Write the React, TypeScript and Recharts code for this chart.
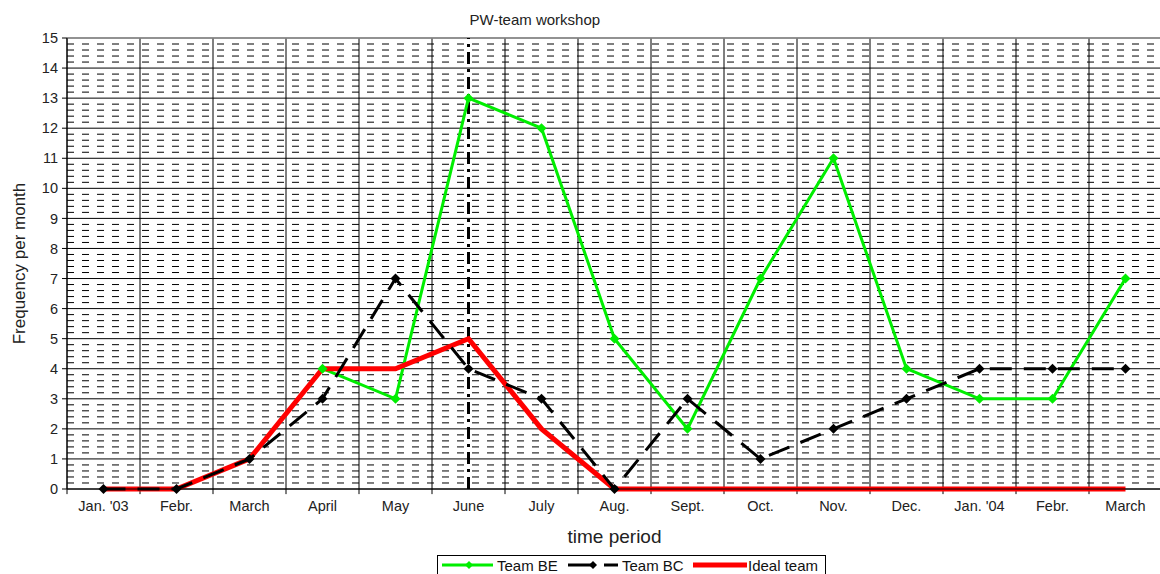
import React from "react";
import {
  LineChart,
  Line,
  XAxis,
  YAxis,
  CartesianGrid,
  ReferenceLine,
  Legend,
  Label,
} from "recharts";

const months = [
  "Jan. '03", "Febr.", "March", "April", "May", "June", "July", "Aug.",
  "Sept.", "Oct.", "Nov.", "Dec.", "Jan. '04", "Febr.", "March",
];
const teamBE = [null, null, null, 4, 3, 13, 12, 5, 2, 7, 11, 4, 3, 3, 7];
const teamBC = [0, 0, 1, 3, 7, 4, 3, 0, 3, 1, 2, 3, 4, 4, 4];
const idealTeam = [0, 0, 1, 4, 4, 5, 2, 0, 0, 0, 0, 0, 0, 0, 0];
const yTicks = [0, 1, 2, 3, 4, 5, 6, 7, 8, 9, 10, 11, 12, 13, 14, 15];
const workshopMonth = "June";

// each month sits in the middle of its band (i .. i+1)
const data = months.map((m, i) => ({
  x: i + 0.5,
  month: m,
  be: teamBE[i],
  bc: teamBC[i],
  ideal: idealTeam[i],
}));
const xTicks = data.map((d) => d.x);

const bandEdges = months.map((_, i) => i).concat(months.length);
const minorLines: number[] = [];
for (let k = 1; k < 75; k++) if (k % 5 !== 0) minorLines.push(k / 5);

const FONT = "'Liberation Sans', Arial, sans-serif";

function Diamond(color: string, r: number) {
  return (props: any) => {
    const { cx, cy, index } = props;
    if (cx == null || cy == null || props.value == null) return <g key={index} />;
    return (
      <polygon
        key={index}
        points={`${cx},${cy - r} ${cx + r},${cy} ${cx},${cy + r} ${cx - r},${cy}`}
        fill={color}
      />
    );
  };
}

function LegendBox() {
  const txt = { position: "absolute" as const, top: 1, lineHeight: "17px" };
  return (
    <div style={{ height: 20, fontFamily: FONT, fontSize: 15, color: "#111" }}>
      <div
        style={{
          position: "relative",
          marginLeft: 437,
          width: 389,
          height: 20,
          boxSizing: "border-box",
          border: "1px solid #000",
          whiteSpace: "nowrap",
        }}
      >
        <svg width={389} height={18} style={{ position: "absolute", left: -1, top: 0 }}>
          <line x1={5} y1={9} x2={56} y2={9} stroke="#00ee00" strokeWidth={3} />
          <polygon points="32,5 36,9 32,13 28,9" fill="#00ee00" />
          <line x1={131} y1={9} x2={158} y2={9} stroke="#000" strokeWidth={3} />
          <line x1={167} y1={9} x2={181} y2={9} stroke="#000" strokeWidth={3} />
          <polygon points="156,5 160,9 156,13 152,9" fill="#000" />
          <line x1={256} y1={9} x2={310} y2={9} stroke="#ff0000" strokeWidth={5} />
        </svg>
        <span style={{ ...txt, left: 59 }}>Team BE</span>
        <span style={{ ...txt, left: 184 }}>Team BC</span>
        <span style={{ ...txt, left: 310 }}>Ideal team</span>
      </div>
    </div>
  );
}

export default function App() {
  return (
    <div style={{ position: "absolute", left: 0, top: 0, background: "#fff" }}>
      <LineChart
        width={1160}
        height={574}
        data={data}
        margin={{ top: 38, right: -2, bottom: 0, left: 0 }}
        style={{ fontFamily: FONT }}
      >
        <CartesianGrid vertical={false} stroke="#000" />
        {minorLines.map((v) => (
          <ReferenceLine key={"m" + v} y={v} stroke="#000" strokeDasharray="7 8" />
        ))}
        {bandEdges.map((e) => (
          <ReferenceLine
            key={"v" + e}
            segment={[
              { x: e, y: -0.17 },
              { x: e, y: 15 },
            ]}
            ifOverflow="visible"
            stroke="#000"
          />
        ))}
        <ReferenceLine y={15} stroke="#999" strokeWidth={1.5} />
        <XAxis
          dataKey="x"
          type="number"
          domain={[0, months.length]}
          ticks={xTicks}
          interval={0}
          tickFormatter={(v) => months[Math.floor(v)]}
          height={65}
          tickLine={false}
          tickMargin={6}
          axisLine={{ stroke: "#000" }}
          tick={{ fill: "#222", fontSize: 14.5 }}
        >
          <Label
            value="time period"
            position="insideBottom"
            offset={11}
            style={{ fontSize: 19, fill: "#222" }}
          />
        </XAxis>
        <YAxis
          type="number"
          domain={[0, 15]}
          ticks={yTicks}
          interval={0}
          width={67}
          tickSize={5}
          tickMargin={4}
          axisLine={{ stroke: "#000" }}
          tickLine={{ stroke: "#000" }}
          tick={{ fill: "#222", fontSize: 14.5 }}
        >
          <Label
            value="Frequency per month"
            angle={-90}
            position="insideLeft"
            offset={19}
            style={{ fontSize: 17, fill: "#222", textAnchor: "middle" }}
          />
        </YAxis>
        <ReferenceLine
          x={data[months.indexOf(workshopMonth)].x}
          stroke="#000"
          strokeWidth={3}
          strokeDasharray="12 5 3 5"
          label={(props: any) => {
            const vb = props.viewBox || {};
            return (
              <text
                x={vb.x + 1}
                y={vb.y - 13}
                textAnchor="start"
                fontSize={15}
                fill="#222"
                fontFamily={FONT}
              >
                PW-team workshop
              </text>
            );
          }}
        />
        <Line
          dataKey="be"
          name="Team BE"
          stroke="#00ee00"
          strokeWidth={3}
          dot={Diamond("#00ee00", 5)}
          activeDot={false}
          isAnimationActive={false}
        />
        <Line
          dataKey="ideal"
          name="Ideal team"
          stroke="#ff0000"
          strokeWidth={5}
          dot={false}
          activeDot={false}
          isAnimationActive={false}
        />
        <Line
          dataKey="bc"
          name="Team BC"
          stroke="#000"
          strokeWidth={3}
          strokeDasharray="22 12"
          dot={Diamond("#000", 5)}
          activeDot={false}
          isAnimationActive={false}
        />
        <Legend
          verticalAlign="bottom"
          content={() => <LegendBox />}
          wrapperStyle={{ bottom: -1, left: 0 }}
        />
      </LineChart>
    </div>
  );
}
